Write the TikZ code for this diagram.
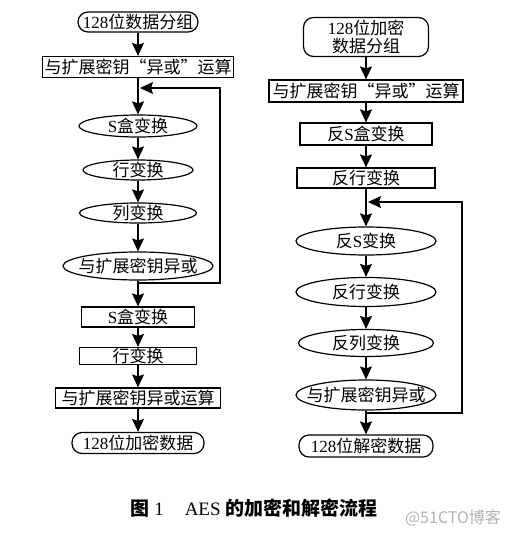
\documentclass[tikz,border=0pt]{standalone}
\usepackage{fontspec}
\setmainfont{Liberation Serif}
\newfontfamily\cjk{Noto Sans CJK SC}
\usetikzlibrary{shapes,arrows.meta,positioning,calc}

\tikzset{
  flow/.style={draw, line width=1.2pt, inner sep=0pt, font=\fontsize{17}{18}\selectfont},
  term/.style={flow, rounded corners=10pt},
  procbox/.style={flow, rectangle},
  oval/.style={flow, ellipse, inner xsep=-12pt, inner ysep=-3pt},
  arr/.style={line width=1.3pt, -{Stealth[length=13pt,width=12pt,inset=2pt]}},
}

\begin{document}
\begin{tikzpicture}[x=1pt,y=-1pt]
    \useasboundingbox (0,0) rectangle (512,537);

    % Encryption
    \node[term, minimum width=120, minimum height=20] (enIn) at (138,22) {128{\cjk 位数据分组}};
    \node[procbox, minimum width=191, minimum height=21] (enXor0) at (138,67) {\cjk 与扩展密钥“异或”运算};
    \node[oval, minimum width=118, minimum height=22] (enSub) at (138,126) {S{\cjk 盒变换}};
    \node[oval, minimum width=110, minimum height=20] (enShift) at (138,170) {\cjk 行变换};
    \node[oval, minimum width=117, minimum height=20] (enMix) at (138,213) {\cjk 列变换};
    \node[oval, minimum width=150, minimum height=28] (enXor) at (138,266) {\cjk 与扩展密钥异或};
    \node[procbox, minimum width=113, minimum height=20] (enSubF) at (138,317) {S{\cjk 盒变换}};
    \node[procbox, minimum width=117, minimum height=17] (enShiftF) at (138,356) {\cjk 行变换};
    \node[procbox, minimum width=165, minimum height=20] (enXorF) at (138,398) {\cjk 与扩展密钥异或运算};
    \node[term, minimum width=132, minimum height=21] (enOut) at (138,443) {128{\cjk 位加密数据}};

    \draw[arr] (enIn) -- (enXor0);
    \draw[arr] (enXor0) -- (enSub);
    \draw[arr] (enSub) -- (enShift);
    \draw[arr] (enShift) -- (enMix);
    \draw[arr] (enMix) -- (enXor);
    \draw[arr] (enXor) -- (enSubF);
    \draw[arr] (enSubF) -- (enShiftF);
    \draw[arr] (enShiftF) -- (enXorF);
    \draw[arr] (enXorF) -- (enOut);

    % Round loop
    \coordinate (enLoopOut) at (138,283);
    \coordinate (enLoopR) at (220,88);
    \coordinate (enLoopIn) at (140,88);
    \draw[arr] (enLoopOut) -| (enLoopR) -- (enLoopIn);

    % Decryption
    \node[term, minimum width=125, minimum height=39, align=center] (deIn) at (366,37) {128{\cjk 位加密}\\{\cjk 数据分组}};
    \node[procbox, minimum width=194, minimum height=22] (deXor0) at (366,91) {\cjk 与扩展密钥“异或”运算};
    \node[procbox, minimum width=132, minimum height=22] (deSub) at (366,134) {{\cjk 反}S{\cjk 盒变换}};
    \node[procbox, minimum width=138, minimum height=20] (deShift) at (366,178) {\cjk 反行变换};
    \node[oval, minimum width=140, minimum height=28] (deSubR) at (366,241) {{\cjk 反}S{\cjk 变换}};
    \node[oval, minimum width=140, minimum height=29] (deShiftR) at (366,292) {\cjk 反行变换};
    \node[oval, minimum width=135, minimum height=27] (deMix) at (366,343) {\cjk 反列变换};
    \node[oval, minimum width=140, minimum height=30] (deXor) at (366,395) {\cjk 与扩展密钥异或};
    \node[term, minimum width=134, minimum height=22] (deOut) at (366,446) {128{\cjk 位解密数据}};

    \draw[arr] (deIn) -- (deXor0);
    \draw[arr] (deXor0) -- (deSub);
    \draw[arr] (deSub) -- (deShift);
    \draw[arr] (deShift) -- (deSubR);
    \draw[arr] (deSubR) -- (deShiftR);
    \draw[arr] (deShiftR) -- (deMix);
    \draw[arr] (deMix) -- (deXor);
    \draw[arr] (deXor) -- (deOut);

    % Round loop
    \coordinate (deLoopOut) at (366,413);
    \coordinate (deLoopR) at (462,202);
    \coordinate (deLoopIn) at (368,202);
    \draw[arr] (deLoopOut) -| (deLoopR) -- (deLoopIn);

    % Caption
    \node[font=\fontsize{19}{20}\selectfont] (caption) at (254,508) {{\cjk\bfseries 图}~1\hspace{1.1em}AES {\cjk\bfseries 的加密和解密流程}};
    \node[text=gray!60, font=\fontsize{16}{17}\selectfont] (mark) at (453,518) {\cjk @51CTO博客};
\end{tikzpicture}
\end{document}
